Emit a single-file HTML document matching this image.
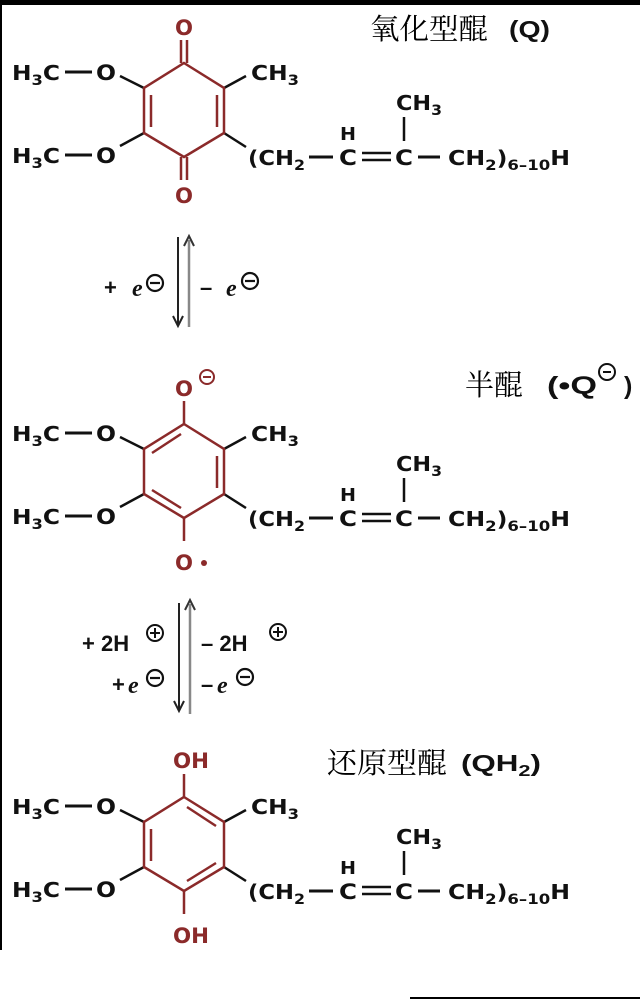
<!DOCTYPE html>
<html><head><meta charset="utf-8"><style>
html,body{margin:0;padding:0;background:#fff}
svg{display:block}
text{font-family:"DejaVu Sans","Liberation Sans",sans-serif;font-weight:bold;fill:#111}
text.cn{font-family:"Liberation Serif","Noto Serif CJK SC",serif;font-weight:normal;fill:#000}
text.e{font-family:"Liberation Serif",serif;font-style:italic;font-weight:bold}
text.ls{font-family:"Liberation Sans",sans-serif}
</style></head><body>
<svg width="640" height="1001" viewBox="0 0 640 1001" xmlns="http://www.w3.org/2000/svg">
<rect x="0" y="0" width="640" height="5" fill="#000"/>
<rect x="0" y="0" width="2" height="950" fill="#000"/>
<rect x="410" y="997" width="230" height="2" fill="#000"/>
<defs>
<g id="common">
  <text x="12" y="80" font-size="20" textLength="48" lengthAdjust="spacingAndGlyphs">H<tspan font-size="14" dy="5">3</tspan><tspan dy="-5">C</tspan></text>
  <line x1="65" y1="72" x2="92" y2="72" stroke="#111" stroke-width="3"/>
  <text x="96" y="80" font-size="21" textLength="20" lengthAdjust="spacingAndGlyphs">O</text>
  <line x1="120" y1="76" x2="144" y2="88" stroke="#111" stroke-width="2.5"/>
  <text x="12" y="163" font-size="20" textLength="48" lengthAdjust="spacingAndGlyphs">H<tspan font-size="14" dy="5">3</tspan><tspan dy="-5">C</tspan></text>
  <line x1="65" y1="155" x2="92" y2="155" stroke="#111" stroke-width="3"/>
  <text x="96" y="163" font-size="21" textLength="20" lengthAdjust="spacingAndGlyphs">O</text>
  <line x1="120" y1="146" x2="144" y2="133" stroke="#111" stroke-width="2.5"/>
  <line x1="224" y1="88" x2="246" y2="76" stroke="#111" stroke-width="2.5"/>
  <text x="251" y="80" font-size="20" textLength="48" lengthAdjust="spacingAndGlyphs">CH<tspan font-size="14" dy="5">3</tspan></text>
  <line x1="224" y1="133" x2="246" y2="147" stroke="#111" stroke-width="2.5"/>
  <text x="248" y="165" font-size="20" textLength="57" lengthAdjust="spacingAndGlyphs">(CH<tspan font-size="14" dy="5">2</tspan></text>
  <line x1="309" y1="157" x2="333" y2="157" stroke="#111" stroke-width="3"/>
  <text x="339" y="165" font-size="21" textLength="18" lengthAdjust="spacingAndGlyphs">C</text>
  <text x="340" y="140" font-size="18" textLength="16" lengthAdjust="spacingAndGlyphs">H</text>
  <line x1="362" y1="153" x2="391" y2="153" stroke="#111" stroke-width="2.5"/>
  <line x1="362" y1="160" x2="391" y2="160" stroke="#111" stroke-width="2.5"/>
  <text x="395" y="165" font-size="21" textLength="18" lengthAdjust="spacingAndGlyphs">C</text>
  <line x1="404" y1="117" x2="404" y2="141" stroke="#111" stroke-width="2.5"/>
  <text x="396" y="110" font-size="20" textLength="46" lengthAdjust="spacingAndGlyphs">CH<tspan font-size="14" dy="5">3</tspan></text>
  <line x1="418" y1="157" x2="440" y2="157" stroke="#111" stroke-width="3"/>
  <text x="448" y="165" font-size="20" textLength="122" lengthAdjust="spacingAndGlyphs">CH<tspan font-size="14" dy="5">2</tspan><tspan dy="-5">)</tspan><tspan font-size="14" dy="5">6–10</tspan><tspan dy="-5">H</tspan></text>
  <polygon points="184,63 224,88 224,133 184,157 144,133 144,88" fill="none" stroke="#8b2a2a" stroke-width="2.5"/>
</g>
</defs>

<!-- Molecule 1 -->
<use href="#common"/>
<line x1="181" y1="40" x2="181" y2="63" stroke="#8b2a2a" stroke-width="2.5"/>
<line x1="187" y1="40" x2="187" y2="63" stroke="#8b2a2a" stroke-width="2.5"/>
<line x1="181" y1="157" x2="181" y2="180" stroke="#8b2a2a" stroke-width="2.5"/>
<line x1="187" y1="157" x2="187" y2="180" stroke="#8b2a2a" stroke-width="2.5"/>
<text x="175" y="35" font-size="21" textLength="18" lengthAdjust="spacingAndGlyphs" style="fill:#8b2a2a">O</text>
<text x="175" y="203" font-size="21" textLength="18" lengthAdjust="spacingAndGlyphs" style="fill:#8b2a2a">O</text>
<line x1="151" y1="95" x2="151" y2="127" stroke="#8b2a2a" stroke-width="2.5"/>
<line x1="217" y1="95" x2="217" y2="127" stroke="#8b2a2a" stroke-width="2.5"/>
<text class="cn" x="370" y="39" font-size="29" textLength="118" lengthAdjust="spacingAndGlyphs">氧化型醌</text>
<text class="ls" x="509" y="37" font-size="23" textLength="41" lengthAdjust="spacingAndGlyphs">(Q)</text>

<!-- Arrows 1 -->
<line x1="178" y1="237" x2="178" y2="324" stroke="#222" stroke-width="2"/>
<polyline points="173,316 178,326 183,316" fill="none" stroke="#222" stroke-width="2"/>
<line x1="189" y1="240" x2="189" y2="327" stroke="#888" stroke-width="2.5"/>
<polyline points="184,246 189,236 194,246" fill="none" stroke="#333" stroke-width="2"/>
<text class="ls" x="104" y="295" font-size="22">+</text>
<text class="e" x="132" y="296" font-size="24">e</text>
<circle cx="155" cy="283" r="8" fill="none" stroke="#111" stroke-width="2.2"/><line x1="150" y1="283" x2="160" y2="283" stroke="#111" stroke-width="2.2"/>
<text class="ls" x="200" y="295" font-size="22">–</text>
<text class="e" x="226" y="296" font-size="24">e</text>
<circle cx="250" cy="281" r="8" fill="none" stroke="#111" stroke-width="2.2"/><line x1="245" y1="281" x2="255" y2="281" stroke="#111" stroke-width="2.2"/>

<!-- Molecule 2 -->
<g transform="translate(0,361)">
<use href="#common"/>
<line x1="184" y1="40" x2="184" y2="63" stroke="#8b2a2a" stroke-width="2.5"/>
<line x1="184" y1="157" x2="184" y2="180" stroke="#8b2a2a" stroke-width="2.5"/>
<text x="175" y="35" font-size="21" textLength="18" lengthAdjust="spacingAndGlyphs" style="fill:#8b2a2a">O</text>
<circle cx="207" cy="16" r="7" fill="none" stroke="#8b2a2a" stroke-width="2"/><line x1="203" y1="16" x2="211" y2="16" stroke="#8b2a2a" stroke-width="2"/>
<text x="175" y="209" font-size="21" textLength="18" lengthAdjust="spacingAndGlyphs" style="fill:#8b2a2a">O</text>
<circle cx="204" cy="202" r="3" fill="#8b2a2a"/>
<line x1="152" y1="92" x2="181" y2="73" stroke="#8b2a2a" stroke-width="2.5"/>
<line x1="217" y1="95" x2="217" y2="127" stroke="#8b2a2a" stroke-width="2.5"/>
<line x1="152" y1="129" x2="181" y2="147" stroke="#8b2a2a" stroke-width="2.5"/>
</g>
<text class="cn" x="465" y="395" font-size="29" textLength="58" lengthAdjust="spacingAndGlyphs">半醌</text>
<text class="ls" x="547" y="394" font-size="25" textLength="50" lengthAdjust="spacingAndGlyphs">(•Q</text>
<circle cx="607" cy="372" r="8" fill="none" stroke="#111" stroke-width="2"/><line x1="603" y1="372" x2="611" y2="372" stroke="#111" stroke-width="2"/>
<text class="ls" x="624" y="394" font-size="25">)</text>

<!-- Arrows 2 -->
<line x1="179" y1="603" x2="179" y2="709" stroke="#222" stroke-width="2"/>
<polyline points="174,701 179,711 184,701" fill="none" stroke="#222" stroke-width="2"/>
<line x1="190" y1="604" x2="190" y2="714" stroke="#888" stroke-width="2.5"/>
<polyline points="185,610 190,600 195,610" fill="none" stroke="#333" stroke-width="2"/>
<text class="ls" x="82" y="651" font-size="22">+ 2H</text>
<circle cx="155" cy="633" r="8" fill="none" stroke="#111" stroke-width="2"/><line x1="150" y1="633" x2="160" y2="633" stroke="#111" stroke-width="2"/><line x1="155" y1="628" x2="155" y2="638" stroke="#111" stroke-width="2"/>
<text class="ls" x="112" y="692" font-size="22">+</text>
<text class="e" x="128" y="693" font-size="24">e</text>
<circle cx="155" cy="678" r="8" fill="none" stroke="#111" stroke-width="2.2"/><line x1="150" y1="678" x2="160" y2="678" stroke="#111" stroke-width="2.2"/>
<text class="ls" x="201" y="651" font-size="22">– 2H</text>
<circle cx="278" cy="632" r="8" fill="none" stroke="#111" stroke-width="2"/><line x1="273" y1="632" x2="283" y2="632" stroke="#111" stroke-width="2"/><line x1="278" y1="627" x2="278" y2="637" stroke="#111" stroke-width="2"/>
<text class="ls" x="201" y="692" font-size="22">–</text>
<text class="e" x="217" y="693" font-size="24">e</text>
<circle cx="245" cy="677" r="8" fill="none" stroke="#111" stroke-width="2.2"/><line x1="240" y1="677" x2="250" y2="677" stroke="#111" stroke-width="2.2"/>

<!-- Molecule 3 -->
<g transform="translate(0,734)">
<use href="#common"/>
<line x1="184" y1="40" x2="184" y2="63" stroke="#8b2a2a" stroke-width="2.5"/>
<line x1="184" y1="157" x2="184" y2="180" stroke="#8b2a2a" stroke-width="2.5"/>
<text x="173" y="34" font-size="21" textLength="36" lengthAdjust="spacingAndGlyphs" style="fill:#8b2a2a">OH</text>
<text x="173" y="209" font-size="21" textLength="36" lengthAdjust="spacingAndGlyphs" style="fill:#8b2a2a">OH</text>
<line x1="187" y1="73" x2="216" y2="92" stroke="#8b2a2a" stroke-width="2.5"/>
<line x1="151" y1="95" x2="151" y2="127" stroke="#8b2a2a" stroke-width="2.5"/>
<line x1="187" y1="147" x2="216" y2="129" stroke="#8b2a2a" stroke-width="2.5"/>
</g>
<text class="cn" x="327" y="773" font-size="29" textLength="120" lengthAdjust="spacingAndGlyphs">还原型醌</text>
<text class="ls" x="461" y="771" font-size="23" textLength="80" lengthAdjust="spacingAndGlyphs">(QH<tspan font-size="16" dy="5">2</tspan><tspan dy="-5">)</tspan></text>
</svg>
</body></html>
